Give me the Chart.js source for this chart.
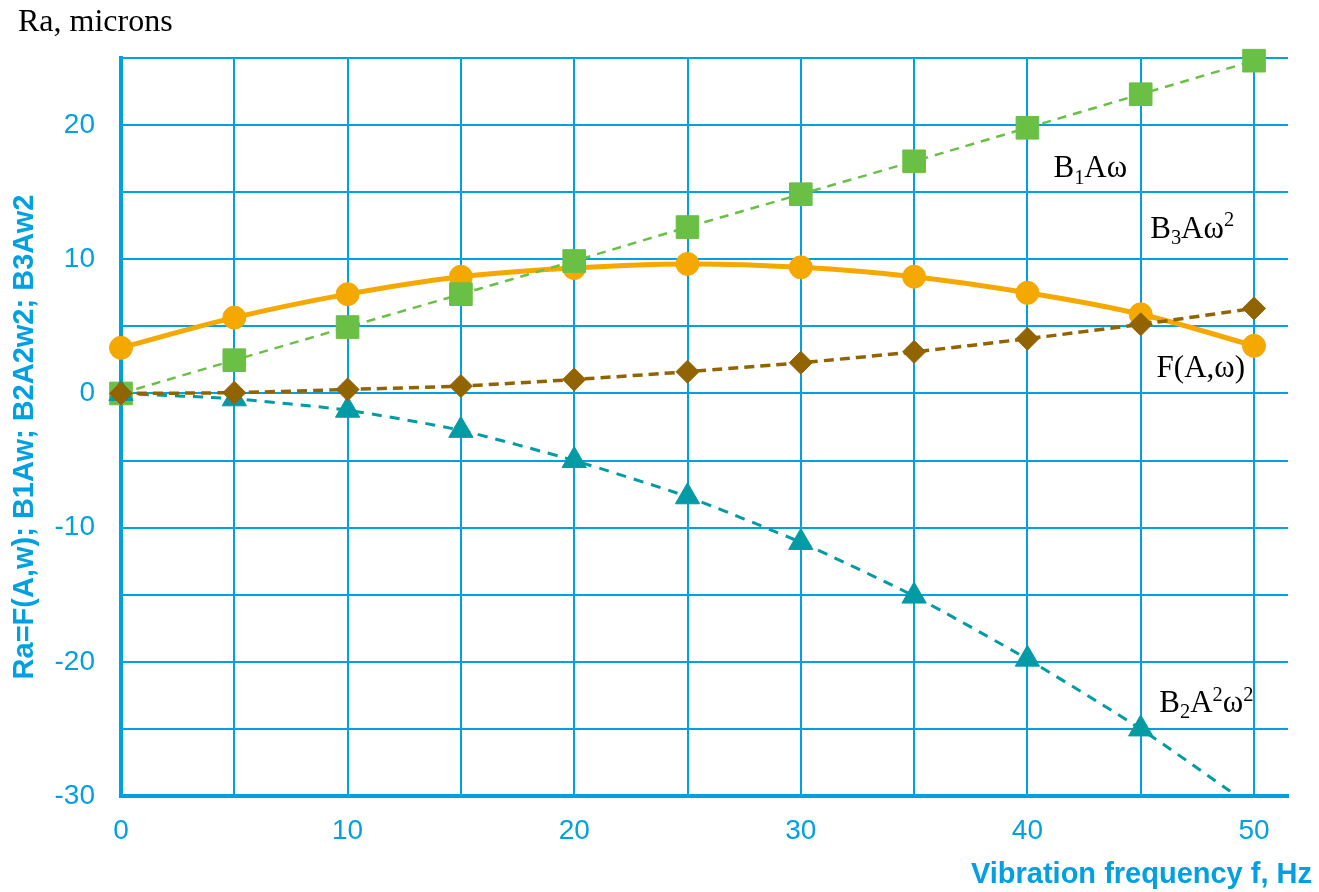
<!DOCTYPE html>
<html>
<head>
<meta charset="utf-8">
<style>
  html, body { margin: 0; padding: 0; background: #ffffff; }
  #wrap { width: 1319px; height: 892px; }
</style>
<script src="https://cdn.jsdelivr.net/npm/chart.js@4.4.1/dist/chart.umd.min.js"></script>
</head>
<body>
<div id="wrap"><canvas id="c" width="1319" height="892"></canvas></div>
<script>
// ---- data ----
const frequency = [0, 5, 10, 15, 20, 25, 30, 35, 40, 45, 50];
const seriesF   = [3.4, 5.65, 7.4, 8.7, 9.35, 9.65, 9.4, 8.7, 7.5, 5.9, 3.55];      // F(A,ω)
const seriesB1  = [0, 2.48, 4.95, 7.4, 9.87, 12.4, 14.85, 17.3, 19.8, 22.3, 24.8];   // B1Aω
const seriesB3  = [0, 0.06, 0.3, 0.55, 1.04, 1.62, 2.29, 3.1, 4.08, 5.15, 6.34];     // B3Aω²
const seriesB2  = [0, -0.4, -1.25, -2.75, -5.0, -7.7, -11.1, -15.1, -19.8, -25.0, -30.9]; // B2A²ω²
const xTickLabels = [0, 10, 20, 30, 40, 50];
const yTickLabels = [20, 10, 0, -10, -20, -30];

const topTitle = 'Ra, microns';
const xTitle = 'Vibration frequency f, Hz';
const yTitle = 'Ra=F(A,w); B1Aw; B2A2w2; B3Aw2';

// ---- styles ----
const BLUE = 'rgb(0,160,226)';
const ORANGE = 'rgb(245,168,0)';
const GREEN = 'rgb(106,191,69)';
const BROWN = 'rgb(146,100,0)';
const TEAL = 'rgb(0,155,165)';

const pts = arr => arr.map((v, i) => ({ x: frequency[i], y: v }));

// labels next to curves, anchored in data coordinates
const curveLabels = [
  { parts: [['B', 0], ['1', -1], ['Aω', 0]], x: 41.15, y: 16.1 },
  { parts: [['B', 0], ['3', -1], ['Aω', 0], ['2', 1]], x: 45.42, y: 11.62 },
  { parts: [['F(A,ω)', 0]], x: 45.7, y: 1.25 },
  { parts: [['B', 0], ['2', -1], ['A', 0], ['2', 1], ['ω', 0], ['2', 1]], x: 45.82, y: -23.73 }
];

const textPlugin = {
  id: 'textPlugin',
  afterDraw(chart) {
    const { ctx, scales: { x, y } } = chart;
    ctx.save();
    // top-left unit label
    ctx.fillStyle = '#000000';
    ctx.font = '32px "Liberation Serif"';
    ctx.textAlign = 'left';
    ctx.textBaseline = 'alphabetic';
    ctx.fillText(topTitle, 18, 31);

    // curve labels
    const size = 31;
    curveLabels.forEach(lab => {
      let px = x.getPixelForValue(lab.x);
      const py = y.getPixelForValue(lab.y);
      lab.parts.forEach(([t, mode]) => {
        let fs = size, dy = 0;
        if (mode === -1) { fs = size * 0.66; dy = size * 0.2; }
        if (mode === 1) { fs = size * 0.66; dy = -size * 0.36; }
        ctx.font = fs + 'px "Liberation Serif"';
        ctx.fillText(t, px, py + dy);
        px += ctx.measureText(t).width;
      });
    });

    // axis titles
    ctx.fillStyle = BLUE;
    ctx.font = 'bold 29px "Liberation Sans"';
    ctx.textAlign = 'right';
    ctx.fillText(xTitle, 1312, 883);

    ctx.translate(33, 437);
    ctx.rotate(-Math.PI / 2);
    ctx.textAlign = 'center';
    ctx.fillText(yTitle, 0, 0);
    ctx.restore();
  }
};

const clipArea = { left: 20, top: 20, right: 40, bottom: 0 };

new Chart(document.getElementById('c'), {
  type: 'line',
  data: {
    datasets: [
      {
        label: 'B3Aω2', data: pts(seriesB3),
        borderColor: BROWN, backgroundColor: BROWN, borderWidth: 3.5, borderDash: [10, 6],
        pointStyle: 'rectRot', pointRadius: 11.5, pointBorderWidth: 1, pointBorderColor: BROWN,
        pointBackgroundColor: BROWN, tension: 0.2, clip: clipArea
      },
      {
        label: 'B2A2w2', data: pts(seriesB2),
        borderColor: TEAL, backgroundColor: TEAL, borderWidth: 3, borderDash: [10, 8],
        pointStyle: 'triangle', pointRadius: 14, pointBorderWidth: 1, pointBorderColor: TEAL,
        pointBackgroundColor: TEAL, tension: 0.2, clip: clipArea
      },
      {
        label: 'B1Aw', data: pts(seriesB1),
        borderColor: GREEN, backgroundColor: GREEN, borderWidth: 2.5, borderDash: [9, 7],
        pointStyle: 'rect', pointRadius: 16, pointBorderWidth: 1, pointBorderColor: GREEN,
        pointBackgroundColor: GREEN, tension: 0, clip: clipArea
      },
      {
        label: 'F(A,w)', data: pts(seriesF),
        borderColor: ORANGE, backgroundColor: ORANGE, borderWidth: 5,
        pointStyle: 'circle', pointRadius: 11.5, pointBorderWidth: 1, pointBorderColor: ORANGE,
        pointBackgroundColor: ORANGE, tension: 0.4, clip: clipArea
      }
    ]
  },
  options: {
    responsive: false,
    animation: false,
    events: [],
    layout: { padding: { top: 58, right: 31, bottom: 0, left: 0 } },
    plugins: { legend: { display: false }, tooltip: { enabled: false }, title: { display: false } },
    scales: {
      x: {
        type: 'linear', min: 0, max: 51.5,
        afterFit: s => { s.height = 96; },
        grid: { color: BLUE, lineWidth: 2, drawTicks: false },
        border: { color: BLUE, width: 4 },
        ticks: {
          stepSize: 5, includeBounds: false, padding: 18, color: BLUE,
          font: { family: '"Liberation Sans"', size: 28 },
          maxRotation: 0, autoSkip: false,
          callback: v => (xTickLabels.includes(v) ? String(v) : '')
        }
      },
      y: {
        type: 'linear', min: -30, max: 25,
        afterFit: s => { s.width = 121; },
        grid: { color: BLUE, lineWidth: 2, drawTicks: false },
        border: { color: BLUE, width: 4 },
        ticks: {
          stepSize: 5, includeBounds: false, padding: 26, color: BLUE,
          font: { family: '"Liberation Sans"', size: 28 },
          autoSkip: false,
          callback: v => (yTickLabels.includes(v) ? String(v) : '')
        }
      }
    }
  },
  plugins: [textPlugin]
});
</script>
</body>
</html>
